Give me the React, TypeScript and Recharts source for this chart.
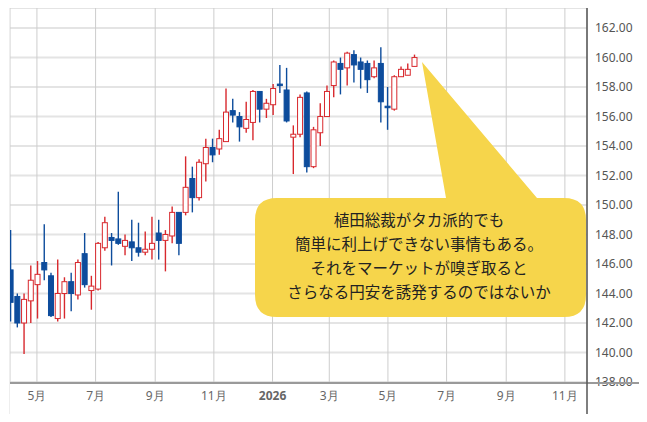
import React from 'react';
import { ComposedChart, Bar, XAxis, YAxis, CartesianGrid } from 'recharts';

// weekly candles (USD/JPY style)
const dates = [
  '2025-04-04', '2025-04-11', '2025-04-18', '2025-04-25', '2025-05-02', '2025-05-09', '2025-05-16',
  '2025-05-23', '2025-05-30', '2025-06-06', '2025-06-13', '2025-06-20', '2025-06-27', '2025-07-04',
  '2025-07-11', '2025-07-18', '2025-07-25', '2025-08-01', '2025-08-08', '2025-08-15', '2025-08-22',
  '2025-08-29', '2025-09-05', '2025-09-12', '2025-09-19', '2025-09-26', '2025-10-03', '2025-10-10',
  '2025-10-17', '2025-10-24', '2025-10-31', '2025-11-07', '2025-11-14', '2025-11-21', '2025-11-28',
  '2025-12-05', '2025-12-12', '2025-12-19', '2025-12-26', '2026-01-02', '2026-01-09', '2026-01-16',
  '2026-01-23', '2026-01-30', '2026-02-06', '2026-02-13', '2026-02-20', '2026-02-27', '2026-03-06',
  '2026-03-13', '2026-03-20', '2026-03-27', '2026-04-03', '2026-04-10', '2026-04-17', '2026-04-24',
  '2026-05-01', '2026-05-08', '2026-05-15', '2026-05-22', '2026-05-29',
];

const opens = [
  145.6, 143.8, 142.0, 143.5, 144.6, 146.1, 145.2, 142.3, 144.0, 144.8, 143.9, 146.7, 144.2, 144.3,
  147.1, 147.8, 147.7, 147.2, 147.5, 147.1, 146.8, 147.0, 148.1, 147.6, 147.9, 149.5, 149.5, 151.8,
  150.5, 152.8, 153.9, 153.8, 154.3, 156.4, 156.0, 155.2, 155.6, 157.7, 156.5, 156.8, 158.2, 157.8,
  154.6, 154.8, 157.6, 152.6, 154.9, 156.0, 158.1, 159.6, 159.3, 160.2, 159.7, 159.6, 158.7, 159.6,
  156.7, 156.5, 158.7, 158.8, 159.4,
];
const highs = [
  148.3, 144.0, 144.0, 145.9, 146.2, 148.7, 145.4, 146.3, 145.1, 145.4, 146.3, 148.1, 145.2, 147.5,
  149.2, 148.1, 150.9, 148.0, 149.0, 148.8, 148.2, 149.2, 149.0, 148.3, 149.9, 149.5, 153.3, 152.6,
  153.1, 154.5, 154.5, 155.1, 157.9, 157.2, 156.3, 157.0, 157.8, 157.7, 157.2, 158.2, 159.5, 159.3,
  155.4, 157.5, 157.7, 155.3, 156.9, 158.1, 159.8, 160.0, 160.4, 160.5, 160.0, 159.8, 159.8, 160.7,
  158.0, 158.8, 159.4, 159.6, 160.2,
];
const lows = [
  142.1, 141.7, 139.9, 142.0, 142.3, 144.9, 142.4, 142.1, 142.3, 142.8, 143.6, 144.4, 142.9, 144.2,
  146.9, 145.9, 147.3, 146.6, 146.2, 146.5, 146.6, 146.3, 146.3, 145.5, 147.4, 146.6, 149.3, 149.5,
  150.3, 151.6, 152.9, 153.4, 154.3, 155.6, 154.3, 154.9, 154.4, 155.6, 155.9, 156.1, 157.6, 155.6,
  152.1, 154.6, 152.2, 152.5, 154.0, 156.0, 157.3, 157.5, 158.1, 158.3, 157.9, 157.6, 158.6, 155.6,
  155.1, 156.4, 158.7, 158.8, 159.4,
];
const closes = [
  143.4, 142.0, 143.6, 144.9, 145.3, 145.6, 142.5, 144.0, 144.8, 144.0, 146.1, 144.6, 144.5, 147.4,
  148.8, 147.6, 147.4, 147.6, 147.1, 146.8, 147.0, 147.4, 147.6, 148.0, 149.5, 147.4, 151.2, 150.5,
  152.9, 153.9, 153.4, 154.5, 156.3, 156.1, 155.3, 155.8, 157.7, 156.5, 156.9, 157.9, 158.1, 155.7,
  154.8, 157.3, 152.6, 155.1, 156.0, 157.7, 159.7, 159.2, 160.3, 159.5, 159.2, 158.5, 159.3, 157.0,
  156.6, 158.7, 159.2, 159.2, 160.0,
];

const monthTicks = [
  '2025-05-01', '2025-07-01', '2025-09-01', '2025-11-01', '2026-01-01',
  '2026-03-01', '2026-05-01', '2026-07-01', '2026-09-01', '2026-11-01',
];
const priceTicks = [138, 140, 142, 144, 146, 148, 150, 152, 154, 156, 158, 160, 162];

const noteLines = [
  '植田総裁がタカ派的でも',
  '簡単に利上げできない事情もある。',
  'それをマーケットが嗅ぎ取ると',
  'さらなる円安を誘発するのではないか',
];

const toDay = (s: string) => Date.parse(s + 'T00:00:00Z') / 86400000;

const data = dates.map((d, i) => ({
  t: toDay(d),
  open: opens[i],
  high: highs[i],
  low: lows[i],
  close: closes[i],
}));

const UP = '#d8282d';
const DOWN = '#0d4c9c';

const Candle = (props: any) => {
  const { x, y, width, height, payload } = props;
  const { open, close, high, low } = payload;
  const k = height / (high - low || 1);
  const yOf = (v: number) => y + (high - v) * k;
  const up = close >= open;
  const color = up ? UP : DOWN;
  const cx = x + width / 2;
  const top = yOf(Math.max(open, close));
  const bottom = yOf(Math.min(open, close));
  const h = Math.max(bottom - top, 1.5);
  return (
    <g>
      <line x1={cx} x2={cx} y1={y} y2={y + height} stroke={color} strokeWidth={1.4} />
      <rect
        x={x + 0.5}
        y={top}
        width={width - 1}
        height={h}
        fill={up ? '#fff' : color}
        stroke={color}
        strokeWidth={1}
      />
    </g>
  );
};

const MonthTick = (props: any) => {
  const { x, y, payload } = props;
  const dt = new Date(payload.value * 86400000);
  const m = dt.getUTCMonth() + 1;
  const isYear = m === 1;
  return (
    <text
      x={x}
      y={y}
      dy="0.71em"
      textAnchor="middle"
      fontSize={12}
      fill="#666"
      fontWeight={isYear ? 700 : 400}
    >
      {isYear ? String(dt.getUTCFullYear()) : `${m}月`}
    </text>
  );
};

const W = 631;
const H = 406;

export default function App() {
  return (
    <div
      style={{
        position: 'relative',
        width: W,
        height: H,
        marginLeft: 2,
        outline: '1px solid #eeeeee',
        fontFamily: '"Noto Sans", sans-serif',
      }}
    >
      <ComposedChart width={W} height={H} data={data} margin={{ top: 0, right: 0, bottom: 0, left: 0 }}>
        <CartesianGrid horizontal vertical={false} stroke="#e4e4e4" strokeWidth={2} />
        <CartesianGrid horizontal={false} vertical stroke="#cdcdcd" strokeWidth={1} />
        <XAxis
          dataKey="t"
          type="number"
          scale="linear"
          domain={[toDay('2025-04-03'), toDay('2026-11-24')]}
          allowDataOverflow
          ticks={monthTicks.map(toDay)}
          tick={<MonthTick />}
          tickLine={false}
          axisLine={false}
          tickSize={0}
          tickMargin={8}
          height={31}
        />
        <YAxis
          orientation="right"
          domain={[137.93, 163.36]}
          allowDataOverflow
          ticks={priceTicks}
          tickFormatter={(v: number) => v.toFixed(2)}
          tick={{ fontSize: 12, fill: '#555' }}
          tickLine={false}
          axisLine={false}
          tickSize={0}
          tickMargin={8}
          width={54}
        />
        <Bar
          dataKey={(d: any) => [d.low, d.high]}
          barSize={6}
          shape={<Candle />}
          isAnimationActive={false}
        />
      </ComposedChart>
      <svg
        width={W}
        height={H}
        style={{ position: 'absolute', left: 0, top: 0, pointerEvents: 'none' }}
      >
        <line x1={0} x2={W} y1={375} y2={375} stroke="#9a9a9a" strokeWidth={2} />
        <line x1={577} x2={577} y1={0} y2={H} stroke="#555" strokeWidth={1.5} />
        <path
          d="M 267 190 L 436 190 L 412 54 L 527 190 L 554 190 Q 576 190 576 212 L 576 287 Q 576 309 554 309 L 267 309 Q 245 309 245 287 L 245 212 Q 245 190 267 190 Z"
          fill="#f6d54b"
        />
        {noteLines.map((line, i) => (
          <text
            key={i}
            x={409}
            y={211 + i * 24}
            textAnchor="middle"
            dominantBaseline="central"
            fontSize={15.5}
            fill="#222"
            fontFamily='"Noto Sans CJK JP", sans-serif'
          >
            {line}
          </text>
        ))}
      </svg>
    </div>
  );
}
